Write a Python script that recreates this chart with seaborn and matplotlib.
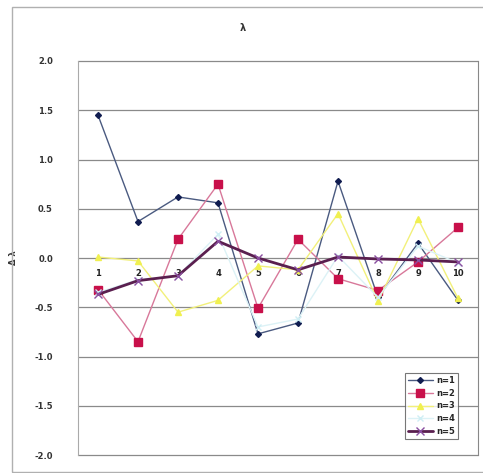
import matplotlib
matplotlib.use("Agg")
import matplotlib.pyplot as plt
import seaborn as sns
import pandas as pd
from matplotlib.patches import Rectangle

categories = ["1", "2", "3", "4", "5", "6", "7", "8", "9", "10"]
n1 = [1.45, 0.37, 0.62, 0.56, -0.77, -0.66, 0.78, -0.40, 0.15, -0.43]
n2 = [-0.32, -0.85, 0.19, 0.75, -0.51, 0.19, -0.21, -0.33, -0.04, 0.31]
n3 = [0.01, -0.03, -0.55, -0.43, -0.08, -0.12, 0.45, -0.44, 0.40, -0.41]
n4 = [-0.35, -0.22, -0.18, 0.24, -0.70, -0.62, 0.02, -0.40, 0.12, -0.05]
n5 = [-0.37, -0.23, -0.18, 0.17, 0.00, -0.12, 0.01, -0.01, -0.02, -0.04]
series_names = ["n=1", "n=2", "n=3", "n=4", "n=5"]

sns.set_style("white")
plt.rcParams['font.family'] = ['DejaVu Sans']
plt.rcParams['font.weight'] = 'bold'

fig = plt.figure(figsize=(4.83, 4.73), dpi=100)
ax = fig.add_axes([78/483, 1 - 455/473, 400/483, 394/473])

styles = {
    "n=1": dict(color="#4a5a80", marker="D", markersize=3, mfc="#101c50", mec="#101c50", lw=1.0),
    "n=2": dict(color="#d8789a", marker="s", markersize=5.5, mfc="#c8104a", mec="#c8104a", lw=1.0),
    "n=3": dict(color="#f2f07a", marker="^", markersize=5, mfc="#f0f050", mec="#f0f050", lw=1.0),
    "n=4": dict(color="#dcf2f6", marker="x", markersize=5, mfc="#cfeef4", mec="#cfeef4", lw=1.0),
    "n=5": dict(color="#5a1f4f", marker="x", markersize=6, mfc="#6a2f7f", mec="#8a4fa0", lw=2.0),
}

data = [n1, n2, n3, n4, n5]
for name, vals in zip(series_names, data):
    df = pd.DataFrame({"x": list(range(len(categories))), "y": vals})
    st = styles[name]
    sns.lineplot(data=df, x="x", y="y", ax=ax, label=name, color=st["color"],
                 marker=st["marker"], markersize=st["markersize"],
                 markerfacecolor=st["mfc"], markeredgecolor=st["mec"],
                 linewidth=st["lw"], markeredgewidth=1.0)

ax.spines['bottom'].set_position(('data', 0))
ax.spines['bottom'].set_visible(False)
ax.set_xlim(-0.5, len(categories) - 0.5)
ax.set_ylim(-2.0, 2.0)
ax.set_yticks([-2.0, -1.5, -1.0, -0.5, 0.0, 0.5, 1.0, 1.5, 2.0])
ax.set_yticklabels(["-2.0", "-1.5", "-1.0", "-0.5", "0.0", "0.5", "1.0", "1.5", "2.0"])
ax.set_xticks(range(len(categories)))
ax.set_xticklabels(categories)
ax.tick_params(axis='x', length=0, pad=8, labelsize=6, labelcolor="#222222")
ax.tick_params(axis='y', length=4, color="#888888", pad=14, direction="out",
               labelsize=6, labelcolor="#333333")
for y in [-2.0, -1.5, -1.0, -0.5, 0.0, 0.5, 1.0, 1.5, 2.0]:
    ax.axhline(y, color="#8a8a8a", lw=0.9, zorder=0, clip_on=False)
ax.spines['top'].set_visible(False)
ax.spines['left'].set_color("#aaaaaa")
ax.spines['right'].set_color("#888888")
ax.spines['left'].set_linewidth(0.8)
ax.spines['right'].set_linewidth(0.8)
ax.set_xlabel("")
ax.set_ylabel("Δ λ", fontsize=6, color="#333333", fontweight="bold")
ax.yaxis.set_label_coords(-0.15, 0.5)

fig.text(243/483, 1 - 28/473, "λ", ha="center", va="center", fontsize=7,
         color="#333333", fontweight="bold")

leg = ax.legend(loc="lower right", bbox_to_anchor=(384/400, (455-443)/394), fontsize=6,
                frameon=True, fancybox=False, borderpad=0.35, labelspacing=0.45,
                handlelength=3.0, handletextpad=0.4, markerfirst=True)
leg.get_frame().set_edgecolor("#555555")
leg.get_frame().set_linewidth(0.8)
leg.get_frame().set_facecolor("white")
leg.set_zorder(5)

fig.patches.append(Rectangle((12/483, 1/473), 1.0, (473-8)/473, transform=fig.transFigure,
                             fill=False, edgecolor="#b0b0b0", lw=1.0))

fig.savefig("out.png", dpi=100)
